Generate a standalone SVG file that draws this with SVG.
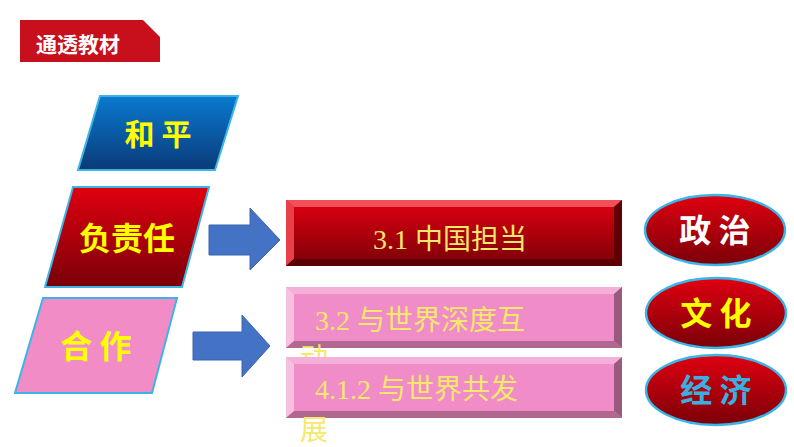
<svg xmlns="http://www.w3.org/2000/svg" width="794" height="447" viewBox="0 0 794 447">
<style>
.b{font-family:"Noto Sans CJK SC",sans-serif;font-weight:bold;text-anchor:middle}
.s{font-family:"Liberation Serif","Noto Sans CJK SC",serif;font-size:28px;fill:#F5E86A}
.par{stroke:#3BB5E8;stroke-width:2}
.ell{fill:url(#gr);stroke:#3BB5E8;stroke-width:2.5}
.arr{fill:#4472C4;stroke:#3A64B0;stroke-width:1}
</style>
<defs>
<linearGradient id="gb" x1="0" y1="0" x2="0" y2="1"><stop offset="0" stop-color="#0A7AD0"/><stop offset="1" stop-color="#0A3A78"/></linearGradient>
<linearGradient id="gr" x1="0" y1="0" x2="0" y2="1"><stop offset="0" stop-color="#E00010"/><stop offset="1" stop-color="#7A0008"/></linearGradient>
<linearGradient id="gbox" x1="0" y1="0" x2="0" y2="1"><stop offset="0" stop-color="#E00010"/><stop offset="1" stop-color="#7A0008"/></linearGradient>
</defs>
<g id="header">
<path d="M20 20 H143 L160 37 V62 H20 Z" fill="#C8101C"/>
<text x="36" y="52" font-family="Noto Sans CJK SC,sans-serif" font-weight="bold" font-size="21" fill="#fff">通透教材</text>
</g>
<g id="heping">
<polygon class="par" points="100,96 238,96 215,170 78,170" fill="url(#gb)"/>
<text class="b" x="158" y="145" font-size="30" fill="#FFFF00">和 平</text>
</g>
<g id="fuzeren">
<polygon class="par" points="73,187 209,187 182,287 45,287" fill="url(#gr)"/>
<text class="b" x="127" y="250" font-size="32" fill="#FFFF00">负责任</text>
</g>
<g id="hezuo">
<polygon class="par" points="43,298 177,298 152,393 15,393" fill="#F28CC6"/>
<text class="b" x="96" y="358" font-size="32" fill="#FFFF00">合  作</text>
</g>
<g id="connectors">
<polygon class="arr" points="209,225 250,225 250,208 280,240 250,270 250,255 209,255"/>
<polygon class="arr" points="193,332 242,332 242,315 270,346 242,377 242,360 193,360"/>
</g>
<g id="box31">
<rect x="286" y="200" width="336" height="66" fill="url(#gbox)"/>
<polygon points="286,200 622,200 614,207 294,207" fill="#F05058"/>
<polygon points="286,200 294,207 294,259 286,266" fill="#E84048"/>
<polygon points="622,200 622,266 614,259 614,207" fill="#600006"/>
<polygon points="286,266 294,259 614,259 622,266" fill="#5A0005"/>
<text class="s" x="450" y="249" text-anchor="middle">3.1 中国担当</text>
</g>
<g id="box32">
<rect x="286" y="287" width="336" height="61" fill="#F08CC8"/>
<polygon points="286,287 622,287 614,294 294,294" fill="#F5B0DA"/>
<polygon points="286,287 294,294 294,341 286,348" fill="#F8C0E0"/>
<polygon points="622,287 622,348 614,341 614,294" fill="#9A5A7E"/>
<polygon points="286,348 294,341 614,341 622,348" fill="#B06890"/>
<text class="s" x="315" y="330">3.2 与世界深度互</text>
<text class="s" x="300" y="368">动</text>
</g>
<g id="box412">
<rect x="286" y="357" width="336" height="61" fill="#F08CC8"/>
<polygon points="286,357 622,357 614,364 294,364" fill="#F5B0DA"/>
<polygon points="286,357 294,364 294,411 286,418" fill="#F8C0E0"/>
<polygon points="622,357 622,418 614,411 614,364" fill="#9A5A7E"/>
<polygon points="286,418 294,411 614,411 622,418" fill="#B06890"/>
<text class="s" x="315" y="399">4.1.2 与世界共发</text>
<text class="s" x="300" y="440">展</text>
</g>
<g id="zhengzhi">
<ellipse class="ell" cx="715" cy="230" rx="70" ry="35"/>
<text class="b" x="715" y="242" font-size="32" fill="#fff">政 治</text>
</g>
<g id="wenhua">
<ellipse class="ell" cx="716" cy="313" rx="70" ry="35"/>
<text class="b" x="716" y="325" font-size="32" fill="#FFFF00">文 化</text>
</g>
<g id="jingji">
<ellipse class="ell" cx="716" cy="390" rx="70" ry="35"/>
<text class="b" x="716" y="402" font-size="32" fill="#3AB0E0">经 济</text>
</g>
</svg>
